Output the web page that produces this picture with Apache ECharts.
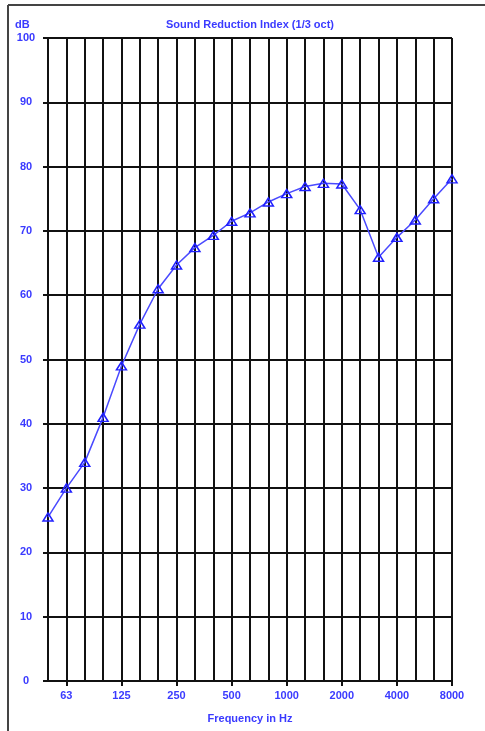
<!DOCTYPE html>
<html>
<head>
<meta charset="utf-8">
<script src="https://cdn.jsdelivr.net/npm/echarts@6/dist/echarts.min.js"></script>
<style>
  html, body { margin: 0; padding: 0; background: #fff; }
  #chart { width: 485px; height: 731px; }
</style>
</head>
<body>
<div id="chart"></div>
<script>
// 1/3 octave bands
const frequencies = ['50', '63', '80', '100', '125', '160', '200', '250', '315', '400', '500', '630',
    '800', '1000', '1250', '1600', '2000', '2500', '3150', '4000', '5000', '6300', '8000'];
const reductionIndex = [25.5, 30, 34, 41, 49, 55.5, 61, 64.7, 67.4, 69.3, 71.5, 72.8,
    74.5, 75.8, 76.9, 77.4, 77.3, 73.3, 65.9, 69, 71.7, 75, 78.1];
// labelled bands (octaves)
const labelledBands = ['63', '125', '250', '500', '1000', '2000', '4000', '8000'];

const blue = '#3a3aff';
const font = 'Liberation Sans, Arial, sans-serif';

const chart = echarts.init(document.getElementById('chart'));

const showLabel = (idx, val) => labelledBands.includes(val);

const option = {
    animation: false,
    backgroundColor: '#fff',
    grid: {
        left: 48,
        right: 33,
        top: 38,
        bottom: 50,
        containLabel: false,
    },
    graphic: [
        { type: 'line', shape: { x1: 8, y1: 5, x2: 485, y2: 5 }, style: { stroke: '#444', lineWidth: 2 } },
        { type: 'line', shape: { x1: 8, y1: 5, x2: 8, y2: 731 }, style: { stroke: '#444', lineWidth: 2 } },
        { type: 'text', left: 15, top: 19, style: { text: 'dB', fill: blue, font: 'bold 11px ' + font } },
        { type: 'text', x: 250, y: 25, style: { text: 'Sound Reduction Index (1/3 oct)', fill: blue, font: 'bold 11px ' + font, align: 'center', verticalAlign: 'middle' } },
    ],
    xAxis: {
        type: 'category',
        data: frequencies,
        boundaryGap: false,
        name: 'Frequency in Hz',
        nameLocation: 'middle',
        nameGap: 32,
        nameTextStyle: { color: blue, fontSize: 11, fontWeight: 'bold', fontFamily: font },
        axisLine: { lineStyle: { color: '#111', width: 2 } },
        axisTick: { show: true, interval: showLabel, length: 5, lineStyle: { color: '#111', width: 2 } },
        axisLabel: { interval: showLabel, color: blue, fontSize: 11, fontWeight: 'bold', fontFamily: font, margin: 9 },
        splitLine: { show: true, interval: 0, lineStyle: { color: '#111', width: 2 } },
    },
    yAxis: {
        type: 'value',
        min: 0,
        max: 100,
        interval: 10,
        axisLine: { show: false },
        axisTick: { show: true, length: 5, lineStyle: { color: '#111', width: 2 } },
        axisLabel: { color: blue, fontSize: 11, fontWeight: 'bold', fontFamily: font, align: 'center', margin: 22 },
        splitLine: { show: true, lineStyle: { color: '#111', width: 2 } },
    },
    series: [
        {
            type: 'line',
            data: reductionIndex,
            symbol: 'triangle',
            symbolSize: [10, 8],
            lineStyle: { color: '#4a4aff', width: 1.5 },
            itemStyle: { color: 'rgba(255,255,255,0)', borderColor: '#2020ff', borderWidth: 1.5 },
        },
    ],
};

chart.setOption(option);
</script>
</body>
</html>
